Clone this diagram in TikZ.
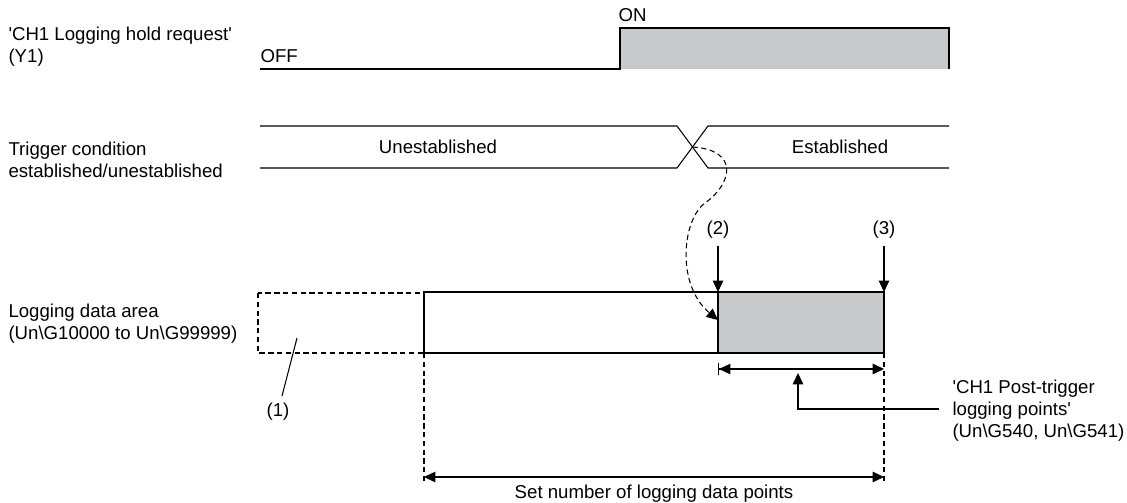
\documentclass[tikz,border=0pt]{standalone}
\usepackage{fontspec}
\setmainfont{Liberation Sans}
\usetikzlibrary{
    arrows.meta,    % 箭头样式
    calc            % 坐标计算
}
\definecolor{boxgray}{RGB}{200,201,202}

\begin{document}
\begin{tikzpicture}[
    x=0.02cm, y=-0.02cm,
    line width=0.6pt,
    >={Triangle[length=6.5pt,width=6pt]},
    lbl/.style={inner sep=0pt, align=left, font=\fontsize{10.6}{12.5}\selectfont},
    dashln/.style={dash pattern=on 3pt off 2pt}
]
    \useasboundingbox (0,0) rectangle (1127,503);

    % 左侧文字
    \node[lbl, anchor=west] (y1lbl) at (8,47) {\textquotesingle CH1 Logging hold request\textquotesingle\\(Y1)};
    \node[lbl, anchor=west] (trglbl) at (8,160) {Trigger condition\\established/unestablished};
    \node[lbl, anchor=west] (arealbl) at (8,324) {Logging data area\\(Un\textbackslash G10000 to Un\textbackslash G99999)};

    % Y1 信号
    \fill[boxgray] (620,28) rectangle (949,69);
    \draw (260,69) -- (620,69) -- (620,28) -- (949,28) -- (949,69);
    \node[lbl, anchor=base west] (off) at (260,63) {OFF};
    \node[lbl, anchor=base west] (on) at (618,22) {ON};

    % 触发条件
    \draw (260,126) -- (677,126) -- (708,168) -- (949,168);
    \draw (260,168) -- (677,168) -- (708,126) -- (949,126);
    \coordinate (cross) at (692.5,147);
    \node[lbl] (unest) at (438,147) {Unestablished};
    \node[lbl] (est) at (840,147) {Established};

    % 记录数据区
    \draw[dashln] (258,293) rectangle (424,353);
    \fill[boxgray] (718,292) rectangle (884,353);
    \draw (424,292) rectangle (884,353);
    \draw (718,292) -- (718,353);
    \coordinate (p2) at (718,292);
    \coordinate (p3) at (884,292);
    \coordinate (hit) at (718,320);

    % 虚线曲线箭头
    \draw[dashln, ->] (cross) .. controls (740,150) and (732,184) .. (705,203)
        .. controls (682,220) and (676,285) .. (hit);

    % (1) (2) (3)
    \node[lbl] (n1) at (278,412) {(1)};
    \draw (282,396) -- (297,338);
    \node[lbl] (n2) at (718,230) {(2)};
    \node[lbl] (n3) at (884,230) {(3)};
    \draw[->] (n2.south) ++(0,-4pt) -- (p2);
    \draw[->] (n3.south) ++(0,-4pt) -- (p3);

    % 后触发点数
    \coordinate (d1) at (718,369);
    \coordinate (d2) at (884,369);
    \draw[{Bar[width=7pt]Triangle[length=6.5pt,width=6pt]}-{Triangle[length=6.5pt,width=6pt]}] (d1) -- (d2);
    \coordinate (up) at (798,409);
    \coordinate (upend) at (939,409);
    \draw[->] (upend) -- (up) -- (798,373);
    \node[lbl, anchor=west] (postlbl) at (952,411) {\textquotesingle CH1 Post-trigger\\logging points\textquotesingle\\(Un\textbackslash G540, Un\textbackslash G541)};

    % 总点数
    \draw[dashln] (424,353) -- (424,484);
    \draw[dashln] (884,353) -- (884,484);
    \coordinate (s1) at (424,477);
    \coordinate (s2) at (884,477);
    \draw[<->] (s1) -- (s2);
    \node[lbl] (setlbl) at (654,494) {Set number of logging data points};
\end{tikzpicture}
\end{document}
